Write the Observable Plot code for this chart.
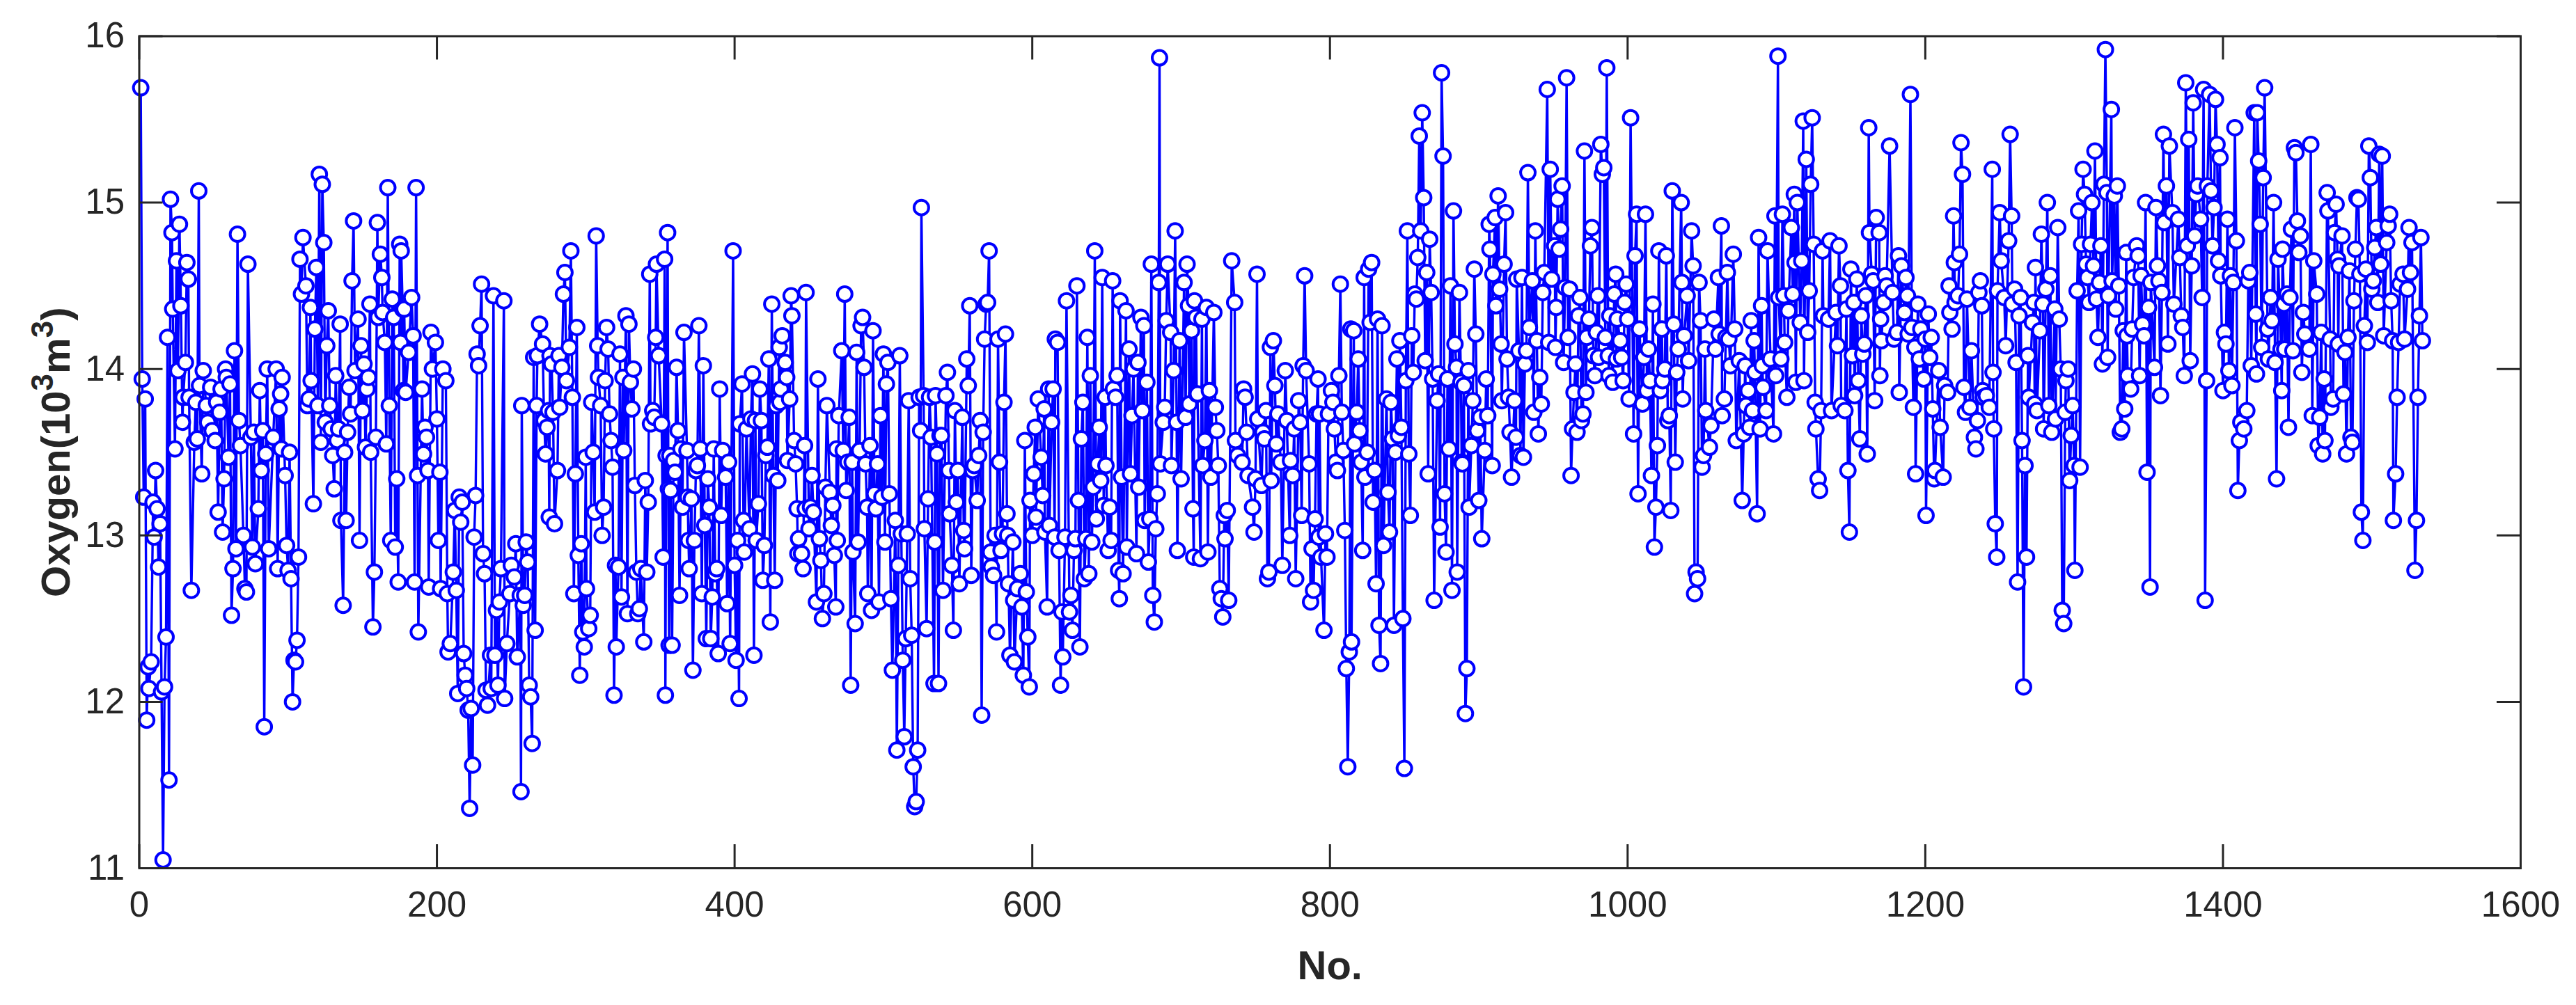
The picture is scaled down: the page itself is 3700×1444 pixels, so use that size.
<!DOCTYPE html>
<html>
<head>
<meta charset="utf-8">
<script src="https://cdn.jsdelivr.net/npm/d3@7"></script>
<script src="https://cdn.jsdelivr.net/npm/@observablehq/plot@0.6"></script>
<style>html,body{margin:0;padding:0;background:#fff}svg{display:block}</style>
</head>
<body>
<div id="chart"></div>
<script>
// Markers as [No., oxygen]; markers hidden inside dense clusters are not listed.
const part1 = [[1,15.69],[2,13.94],[4,13.82],[3,13.23],[5,11.89],[6.5,12.08],[6,12.21],[8,12.24],[11,13.39],[9.3,13.2],[12,13.16],[14,13.07],[10,12.99],[13,12.81],[18,12.39],[17,12.09],[15,12.06],[16,11.05],[20,11.53],[19,14.19],[21,15.02],[22,14.82],[27,14.87],[25,14.65],[32,14.64],[33,14.54],[22.5,14.36],[28,14.38],[26,13.99],[31,14.04],[43,13.99],[40,15.07],[24,13.52],[29,13.68],[29.5,13.83],[33.5,13.83],[40.5,13.9],[48,13.89],[45,13.78],[38,13.8],[54,13.74],[52,13.8],[46,13.68],[37,13.56],[39,13.58],[42,13.37],[35,12.67],[49,13.63],[51,13.57],[58,14],[55,13.88],[61,13.91],[58.5,13.95],[60,13.47],[53,13.14],[57,13.34],[56,13.02],[64,14.11],[66,14.81],[73,14.63],[67,13.69],[68,13.54],[70,13],[65,12.92],[63,12.8],[62,12.52],[71,12.68],[72,12.66],[76,12.93],[78,12.83],[75,13.59],[77,13.62],[83,13.63],[80,13.16],[82,13.39],[85,13.49],[90,13.59],[87,12.92],[84,11.85],[86,14],[92,14],[96,13.95],[95,13.85],[94,13.76],[81,13.87],[95.5,13.52],[101,13.5],[98,13.36],[99,12.94],[93,12.8],[100,12.79],[102,12.74],[107,12.87],[106,12.37],[105,12.24],[104,12.25],[103,12],[110,14.79],[108,14.66],[112,14.5],[109,14.45],[115,14.37],[118,14.24],[115.5,13.93],[114,13.82],[113,13.78],[120,13.78],[119,14.61],[121,15.17],[123,15.11],[124,14.76],[127,14.35],[126,14.14],[135,14.27],[132,13.96],[128,13.78],[125,13.68],[122,13.56],[117,13.19],[129,13.64],[134,13.64],[140,13.62],[133,13.57],[130,13.48],[131,13.28],[138,13.5],[135.5,13.09],[139,13.09],[137,12.58],[141,13.89],[142,13.73],[143,14.53],[144,14.89],[145,13.99],[147,14.3],[149,14.14],[151,14.03],[154,13.95],[153,13.88],[150,13.75],[152,13.53],[148,12.97],[155,14.39],[160,14.88],[162,14.69],[163,14.55],[160.5,14.31],[163.5,14.34],[170,14.42],[167,15.09],[171,14.31],[165,14.16],[168,13.78],[159,13.59],[166,13.55],[155.5,13.5],[173,13.34],[158,12.78],[157,12.45],[169,12.97],[172,12.93],[174,12.72],[175,14.75],[176,14.71],[177,14.36],[177.5,13.87],[175.5,14.16]];
const part2 = [[183,14.43],[178,14.36],[184,14.2],[181,14.1],[179,13.86],[186,15.09],[190,13.88],[187,13.36],[185,12.72],[187.5,12.42],[196,14.22],[199,14.16],[197,14],[204,14],[206,13.93],[200,13.7],[192,13.65],[193,13.59],[191,13.49],[194,13.39],[202,13.38],[201,12.97],[194.5,12.69],[202.5,12.68],[207,12.65],[211,12.78],[213,12.67],[209,12.35],[207.5,12.3],[218,12.29],[219,12.16],[220,12.08],[214,12.05],[223,11.96],[221,11.95],[224,11.62],[222,11.36],[212,13.15],[215,13.23],[217,13.2],[216,13.08],[226,13.24],[225,12.99],[227,14.09],[228,14.02],[229,14.26],[230,14.51],[231,12.89],[232,12.77],[236,12.28],[239,12.28],[233,12.07],[236.5,12.08],[234,11.98],[238,14.44],[245,14.41],[241,12.1],[245.5,12.02],[247,12.35],[254,12.27],[242,12.6],[240,12.55],[243,12.8],[250,12.82],[252,12.75],[249,12.65],[253,12.95],[257,13.78],[260,12.96],[261,12.84],[259,12.64],[256,12.64],[258,12.58],[256.5,11.46],[262,12.1],[263,12.03],[264,11.75],[266,12.43],[267,13.78],[269,14.27],[271,14.15],[265,14.07],[267.5,14.08],[276,14.08],[277,14.03],[284,14.01],[282,14.08],[289,14.13],[294,14.25],[290,14.71],[286,14.58],[285,14.45],[287,13.93],[291,13.83],[304,13.8],[282.5,13.77],[278,13.74],[275,13.75],[272,13.69],[274,13.65],[273,13.49],[281,13.39],[293,13.37],[275.5,13.11],[279,13.07],[307,14.8],[314,14.25],[308,14.14],[315,14.12],[323,14.09],[327,14.32],[329,14.27],[332,14],[330,13.92],[325,13.95],[313,13.93],[308.5,13.95],[310,13.78],[316,13.73],[317,13.57],[331,13.76],[325.5,13.51],[318,13.41],[305,13.5],[300,13.47],[333,13.3],[312,13.17],[306,13.14],[311,13],[297,12.95],[295,12.88],[322,12.81],[320,12.82],[334,12.78],[337,12.8],[341,12.78],[324,12.63],[328,12.53],[336,12.56],[335,12.53],[300.5,12.68],[292,12.65],[303,12.52],[302,12.44],[298,12.42],[299,12.33],[296,12.16],[320.5,12.33],[319,12.04],[339,12.36],[347,14.19],[343,14.57],[347.5,14.63],[353,14.66],[355,14.82],[349,14.08],[343.5,13.67],[345,13.75],[346,13.71],[351,13.67],[340,13.33],[342,13.2],[352,12.87],[355.5,13.28],[354,13.48],[353.5,12.04],[356,12.34]];
const part3 = [[356.5,13.48],[359,13.45],[360,13.38],[357,13.27],[361,14.01],[362,13.63],[364,13.52],[365,13.17],[366,14.22],[368,13.51],[371,13.22],[368.5,13.23],[369,12.97],[373,12.97],[369.5,12.8],[363,12.64],[358,12.34],[372,12.19],[376,14.26],[379,14.02],[377,13.52],[375,13.42],[374,13.39],[382,13.34],[383,13.17],[380,13.06],[378,12.65],[390,13.88],[392,13.51],[386,13.52],[396,13.44],[394,13.35],[391,13.12],[388,12.8],[387,12.77],[385,12.63],[395,12.59],[381,12.38],[384,12.38],[389,12.29],[397,12.35],[399,14.71],[400,12.82],[401,12.25],[403,12.02],[405,13.91],[403.5,13.67],[408,13.64],[411,13.7],[414,13.69],[418,13.69],[412,13.97],[417,13.88],[416,13.19],[406,13.09],[410,13.04],[402,12.97],[406.5,12.9],[414.5,12.97],[420,12.94],[419,12.73],[427,12.73],[413,12.28],[424,12.48],[423,14.06],[425,14.39],[430,14.13],[432,14.2],[434,14.04],[435,13.95],[431,13.88],[428,13.78],[437,13.82],[430.5,13.8],[421,13.48],[422,13.53],[426,13.36],[429,13.33],[435.5,13.45],[440,13.57],[441,13.43],[447,13.54],[438,14.44],[438.5,14.32],[448,14.46],[452,13.36],[442,13.16],[447.5,13.16],[451,13.17],[453,13.14],[450,13.04],[443,12.98],[445,12.89],[442.5,12.89],[457,12.98],[446,12.8],[458,12.85],[465,13.06],[466,13.18],[464,13.26],[461,13.29],[469,12.97],[467,12.88],[460,12.65],[455,12.6],[468,12.57],[459,12.5],[456,13.94],[462,13.78],[470,13.72],[472,14.11],[474,14.45],[477,13.71],[468.5,13.52],[473,13.51],[476,13.44],[479,13.44],[475,13.27],[479.5,12.9],[481,12.47],[478,12.1],[482,14.1],[487,14.01],[486,14.31],[485,14.26],[493,14.23],[484,13.51],[488,13.43],[491,13.54],[496,13.43],[498,13.72],[500,14.09],[503,14.04],[511,14.08],[502,13.91],[517,13.81],[524,13.83],[527,13.84],[531,13.83],[525,13.63],[532,13.59],[525.5,14.97],[483,12.96],[489,13.17],[495,13.16],[494,13.25],[499,13.23],[504,13.25],[508,13.09],[512,13.01],[516,13.01],[501,12.96],[527.5,13.04],[530,13.22],[510,12.82],[518,12.74],[489.5,12.65],[505,12.62],[497,12.6],[492,12.55],[529,12.44],[519,12.4],[515,12.38],[513,12.25],[506,12.19],[509,11.71],[514,11.79],[523,11.71],[520,11.61],[522,11.4],[521,11.37],[534,12.11]];
const part4 = [[571,14.71],[558,14.38],[569,14.39],[570,14.4],[556,14.06],[543,13.98],[557,13.9],[568,14.18],[577,14.18],[582,14.21],[535,13.84],[542,13.84],[548,13.75],[553,13.71],[565,13.69],[567,13.62],[581,13.8],[538,13.6],[539,13.6],[536,13.49],[564,13.48],[578,13.44],[544,13.39],[550,13.39],[560,13.39],[561,13.42],[549,13.2],[563,13.21],[544.5,13.13],[554,13.03],[583,13.13],[534.5,12.96],[554.5,12.92],[575,13],[580,13.01],[583.5,13],[587,12.96],[579,12.91],[572,12.9],[546,12.82],[559,12.76],[551,12.71],[572.5,12.81],[574,12.76],[540,12.67],[547,12.43],[576,12.42],[537,12.11],[566,11.92],[592,12.77],[584,12.71],[590,12.68],[596,12.66],[587.5,12.61],[593,12.57],[597,12.39],[585,12.28],[588,12.24],[594,12.16],[598,12.09],[595,13.57],[604,13.82],[602,13.65],[608,13.76],[611,13.88],[614,13.88],[613,13.68],[606,13.47],[601,13.37],[607,13.24],[598.5,13.21],[602.5,13.11],[600,13],[608.5,13.02],[611.5,13.06],[615,12.99],[618,12.91],[622,12.99],[629,12.98],[628,12.91],[636,12.98],[640,12.96],[610,12.57],[626,12.64],[620,12.54],[625,12.54],[627,12.43],[632,12.33],[620.5,12.27],[619,12.1],[638,12.77],[635,12.74],[617,14.16],[615.5,14.18],[623,14.41],[630,14.5],[642,14.71],[647,14.55],[654,14.53],[659,14.41],[663,14.35],[673,14.31],[675,14.26],[637,14.19],[639,13.96],[634,13.8],[633,13.58],[631,13.21],[645,13.65],[649,13.83],[656,13.83],[657,13.96],[654.5,13.88],[649.5,13.42],[644,13.43],[646,13.33],[641,13.29],[652,13.17],[648,13.18],[643,13.1],[653,12.97],[651,12.91],[665,14.12],[671,14.04],[668,14],[677,13.92],[667,13.72],[674,13.75],[666,13.37],[660,13.35],[671.5,13.29],[684,13.25],[685,14.52],[685.5,15.87],[680,14.63],[691,14.63],[696,14.83],[704,14.63],[702,14.52],[690,14.29],[693,14.22],[699,14.17],[695,13.99],[709,14.41],[705,14.38],[707,14.23],[710,14.31],[689,13.77],[688,13.68],[697,13.68],[703,13.71],[705.5,13.79],[710.5,13.85],[686,13.43],[693.5,13.42],[700,13.34],[679,13.1],[675.5,13.09],[683,13.04],[708,13.16],[697.5,12.91],[670,12.89],[663.5,12.93],[678,12.84],[661,12.77],[658,12.79],[708.5,12.87],[681,12.64],[658.5,12.62],[682,12.48]];
const part5 = [[734,14.65],[736,14.4],[751,14.57],[783,14.56],[807,14.51],[828,14.64],[826,14.6],[823,14.55],[717,14.37],[722,14.34],[714,14.3],[762,14.17],[760,14.13],[770,13.99],[782,14.02],[784,13.99],[792,13.94],[806,13.96],[816,14.23],[814,14.24],[819,14.06],[827,14.28],[832,14.3],[835,14.26],[847,14.17],[855,14.2],[845,14.06],[864,14.05],[856,13.98],[851,13.93],[869,13.94],[873,13.97],[879,13.94],[885,14.01],[884,14.15],[888,13.92],[875,15.78],[862,15.54],[860,15.4],[876,15.28],[863,15.03],[883,14.95],[852,14.83],[861,14.83],[867,14.78],[859,14.67],[865,14.58],[857,14.45],[858,14.42],[868,14.46],[881,14.5],[887,14.46],[711,13.85],[719,13.87],[723,13.77],[724,13.63],[716,13.57],[714.5,13.42],[725,13.42],[720,13.35],[731,13.15],[729,13.12],[729.5,12.98],[713,12.86],[718,12.9],[726,12.68],[727,12.62],[732,12.61],[728,12.51],[742,13.88],[743,13.83],[744,13.62],[736.5,13.57],[738,13.48],[741,13.44],[745,13.36],[750,13.34],[754,13.3],[751.5,13.7],[757,13.75],[755,13.62],[756,13.58],[765,13.73],[764,13.55],[763,13.9],[771,13.69],[760.5,13.33],[748,13.17],[749,13.02],[759,12.78],[758,12.74],[768,12.82],[777,12.74],[773,13],[767,13.44],[773.5,13.45],[775,13.36],[776,13.64],[780,13.68],[779,13.81],[786,13.43],[781,13.12],[790,13.1],[788,12.92],[792.5,12.99],[797,13.01],[798,12.87],[794,12.87],[789,12.67],[787,12.6],[796,12.43],[791,13.73],[793,13.73],[801,13.87],[802,13.8],[799,13.73],[808,13.74],[803,13.64],[809,13.51],[804,13.44],[805,13.39],[810,13.03],[816.5,13.55],[818,13.74],[820,13.63],[821,13.44],[825,13.5],[823.5,13.35],[830,13.39],[829,13.2],[822,12.91],[836,12.94],[840,13.02],[831,12.71],[814.5,12.36],[813,12.3],[811,12.2],[812,11.61],[833,12.46],[834,12.23],[843,12.46],[849,12.5],[850,11.6],[838,13.82],[841,13.8],[839,13.26],[842,13.58],[846,13.6],[848,13.65],[844,13.5],[853,13.49],[854,13.12],[866,13.37],[872,13.81],[880,13.52],[877,13.25],[874,13.05],[878,12.9],[870,12.61],[882,12.67],[885.5,12.78],[888.5,13.44]];
const part6 = [[897,14.6],[898,14.21],[893,13.99],[890,13.9],[896,13.81],[905,13.94],[906,13.72],[901,13.71],[899,13.63],[895,13.54],[904,13.51],[889,13.43],[909,13.42],[893.5,13.17],[900,13.21],[892,12.2],[891,11.93],[902,12.98],[913,15.04],[918,14.94],[907,14.87],[911,14.91],[907.5,14.72],[917,14.63],[909.5,14.57],[914,14.48],[911.5,14.38],[915,14.15],[919,14.06],[915.5,13.81],[920,13.83],[924,13.81],[921,13.62],[925,13.59],[922,13.35],[928,13.48],[930,13.47],[933,15.18],[938,14.83],[925.5,14.54],[929,14.55],[936,14.53],[943,14.46],[934,14.25],[939,14.17],[927,14.11],[932,14.11],[931,14.03],[941,13.95],[942,13.79],[937,13.74],[940,13.61],[946,15.68],[959,15.75],[948,15.2],[956,15.1],[953,15.02],[955,14.84],[951,14.74],[954,14.72],[944,14.58],[949,14.54],[952,14.37],[947,14.16],[951.5,14.13],[958,14.49],[961,14.48],[960,14.19],[957,14.04],[965,14.03],[964,13.86],[972,13.86],[970,13.73],[966,13.62],[963,13.64],[969,13.69],[962,13.36],[968,14.43],[967,14.32],[971,15.31],[976,14.85],[975,14.74],[974,14.3],[972.5,14.19],[980,14.44],[979,14.22],[977,14.08],[980.5,14.07],[978,13.96],[986,15.81],[982,15.35],[984,15.21],[983,15.17],[992,14.57],[999,14.51],[991,14.45],[998,14.4],[988,14.32],[993,14.3],[1000,14.3],[985,14.19],[995,14.17],[987,14.08],[996,14.07],[992.5,14.06],[987.5,13.96],[990,13.92],[997,13.93],[1001,13.82],[1002,15.51],[1006,14.93],[1012,14.93],[1005,14.68],[1008,14.24],[1014,14.12],[1011,14.07],[1015,13.93],[1013,13.87],[1010,13.79],[1004,13.61],[1007,13.25],[1020,13.54],[1016,13.36],[1019,13.17],[1018,12.93],[1017,14.39],[1021,14.71],[1026,14.68],[1030,15.07],[1036,15],[1043,14.83],[1063,14.86],[1044,14.62],[1036.5,14.52],[1048,14.52],[1040,14.44],[1061,14.55],[1067,14.58],[1023,14.24],[1031,14.27],[1038,14.2],[1034,14.12],[1049,14.29],[1058,14.3],[1061.5,14.21],[1052,14.12],[1041,14.05],[1033,13.98],[1025,14],[1023.5,13.93],[1022,13.87],[1066,14.19],[1059,14.12],[1037,13.82],[1065,13.82],[1052.5,13.75],[1063.5,13.72],[1028,13.72],[1027,13.69],[1056,13.66],[1055,13.53],[1051,13.48],[1050,13.41],[1032,13.44],[1029,13.15],[1046,12.78],[1047,12.74],[1045,12.65]];
const part7 = [[1071,14.69],[1101,15.88],[1118,15.49],[1124,15.51],[1120,15.26],[1123,15.11],[1112,15.05],[1114,15],[1162,15.45],[1176,15.34],[1190,15.65],[1224,15.36],[1225,15.17],[1099,14.92],[1104,14.93],[1110,14.85],[1088,14.79],[1094,14.71],[1125,14.75],[1131,14.71],[1136,14.77],[1142,14.74],[1112.5,14.64],[1117,14.65],[1162.5,14.82],[1167,14.91],[1169,14.82],[1219,14.92],[1182,14.68],[1184,14.62],[1223,14.69],[1219.5,14.64],[1187,14.55],[1150,14.6],[1154,14.54],[1143,14.5],[1164,14.57],[1173,14.56],[1165,14.53],[1178,14.46],[1174,14.5],[1216,14.5],[1237,14.53],[1122,14.47],[1111,14.45],[1101.5,14.43],[1105,14.44],[1160,14.44],[1152,14.4],[1188,14.44],[1222,14.44],[1228,14.42],[1236,14.46],[1238,14.38],[1090,14.38],[1108,14.35],[1172,14.4],[1195,14.39],[1202,14.33],[1216.5,14.34],[1220,14.4],[1083,14.29],[1116,14.28],[1131.5,14.32],[1135,14.3],[1140,14.34],[1147,14.36],[1157,14.32],[1170,14.3],[1186,14.34],[1181,14.22],[1191,14.25],[1197,14.24],[1218,14.24],[1072,14.24],[1121,14.22],[1179,14.18],[1068,14.18],[1085,14.17],[1105.5,14.16],[1141,14.14],[1159,14.15],[1170.5,14.17],[1188.5,14.21],[1204,14.19],[1200,14.18],[1231,14.11],[1151,14.08],[1158,14.09],[1193,14.13],[1196,14.06],[1203,14.07],[1103,14.06],[1096,14.06],[1079,14.02],[1085.5,13.98],[1075,14.05],[1069,14.02],[1209,13.99],[1099.5,13.96],[1090.5,14.02],[1169.5,13.96],[1199,13.94],[1155,13.93],[1118.5,13.93],[1113,13.92],[1213,13.9],[1081,13.87],[1091,13.89],[1215,13.86],[1226,13.89],[1238.5,13.87],[1152.5,13.84],[1107,13.83],[1166,13.81],[1182.5,13.86],[1241,13.84],[1243,13.77],[1239,13.83],[1126,13.8],[1192,13.77],[1130,13.75],[1137,13.75],[1143.5,13.78],[1146,13.75],[1205,13.76],[1230,13.77],[1227,13.74],[1084,13.75],[1093,13.75],[1079.5,13.78],[1235,13.69],[1089,13.64],[1082,13.65],[1098,13.61],[1126.5,13.64],[1210,13.65],[1078,13.61],[1073,13.57],[1233,13.59],[1234,13.52],[1156,13.58],[1161,13.49],[1148,13.39],[1193.5,13.37],[1206,13.34],[1212,13.35],[1206.5,13.39],[1128,13.34],[1129,13.27],[1077,13.21],[1087,13.13],[1149,13.02],[1200.5,13.12]];
const part8 = [[1245,15.2],[1247,13.07],[1248,12.87],[1245.5,13.98],[1246,13.64],[1250,14.94],[1257,15.41],[1258,14.92],[1256,14.77],[1251,14.65],[1248.5,14.47],[1253,14.43],[1260,14.48],[1264,14.43],[1258.5,14.39],[1254,14.14],[1263,14.32],[1269,14.08],[1261,14.04],[1265,13.57],[1267,13.42],[1268,12.87],[1262,12.72],[1266,12.09],[1282,15],[1278,14.81],[1274,14.61],[1289,14.85],[1284,14.56],[1281,14.48],[1279,14.39],[1273,14.4],[1272,14.28],[1287,14.36],[1290,14.3],[1277,14.23],[1269.5,13.83],[1275,13.75],[1273.5,13.79],[1283,13.78],[1279.5,13.64],[1285,13.62],[1287.5,13.7],[1294,13.74],[1296,14],[1294.5,13.93],[1291,14],[1299,13.78],[1298,13.6],[1304,13.41],[1300,13.42],[1297,13.33],[1300.5,12.79],[1292,12.55],[1293,12.47],[1306,15.2],[1303,14.95],[1307,15.05],[1314,15.31],[1312,15],[1321,15.92],[1325,15.56],[1320,15.11],[1322,15.06],[1329,15.1],[1327,15.04],[1305,14.75],[1302,14.47],[1311,14.75],[1318,14.74],[1308,14.63],[1313,14.62],[1309,14.55],[1317,14.52],[1310,14.4],[1315,14.42],[1323,14.44],[1325.5,14.53],[1330,14.5],[1328,14.36],[1316,14.19],[1319,14.03],[1322.5,14.07],[1335,14.7],[1342,14.74],[1343,14.68],[1340,14.55],[1345,14.56],[1333,14.23],[1339,14.24],[1335.5,14.2],[1346,14.27],[1350,14.37],[1347,14.2],[1336,13.96],[1344,13.96],[1338,13.88],[1334,13.76],[1332,13.64],[1331,13.62],[1349,13.38],[1351,12.69],[1354,14.01],[1358,13.84],[1348,15],[1355,14.97],[1360,15.41],[1364,15.34],[1362,15.1],[1360.5,14.88],[1356,14.62],[1351.5,14.52],[1357,14.53],[1359,14.46],[1367,14.39],[1363,14.15],[1372,14.32],[1373,14.25],[1378,14.05],[1374,13.96],[1388,12.61],[1389,13.93],[1386,14.43],[1379,14.62],[1371,14.67],[1376,14.74],[1381,14.8],[1370,14.9],[1366,14.94],[1385,14.9],[1375,15.72],[1380,15.6],[1377,15.38],[1387,15.68],[1391,15.65],[1395,15.62],[1396,15.35],[1398,15.27],[1383,15.1],[1382,15.05],[1389.5,15.1],[1392,15.07],[1394,14.97],[1408,15.45],[1403,14.9],[1409,14.77],[1393,14.74],[1397,14.65],[1398.5,14.56],[1405,14.56],[1407,14.52],[1418,14.58],[1417,14.53],[1401,14.22],[1402,14.15],[1404,13.99],[1400,13.87],[1406,13.9],[1419,14.02],[1416,13.75],[1412,13.68],[1414,13.64],[1411,13.57],[1410,13.27],[1421,15.54]];
const part9 = [[1428,15.69],[1423,15.54],[1424,15.25],[1427,15.15],[1434,15],[1425,14.87],[1440,14.72],[1437,14.66],[1446,14.84],[1450,14.89],[1448,15.33],[1449,15.3],[1459,15.35],[1452,14.8],[1451,14.7],[1461,14.65],[1463,14.45],[1445,14.43],[1432,14.43],[1443,14.45],[1441,14.39],[1454,14.34],[1422,14.33],[1430,14.24],[1433,14.29],[1455,14.21],[1466,14.22],[1426,14.13],[1441.5,14.12],[1439,14.12],[1447,14.11],[1458,14.12],[1435,14.04],[1430.5,14.06],[1422.5,13.97],[1453,13.98],[1468,13.94],[1439.5,13.87],[1465,13.71],[1460,13.72],[1444,13.65],[1436,13.34],[1468.5,13.57],[1464,13.54],[1467,13.49],[1470,15.06],[1470.5,14.95],[1476,14.99],[1475,14.82],[1480,14.8],[1477,14.66],[1478,14.62],[1485,14.59],[1489,14.72],[1491,15.02],[1490,15.03],[1492,14.57],[1496,14.6],[1488,14.41],[1472,14.18],[1477.5,14.15],[1484,14.19],[1482,14.1],[1495,14.26],[1497,14.16],[1474,13.82],[1472.5,13.77],[1481,13.85],[1483,13.49],[1486,13.59],[1487,13.56],[1493,13.14],[1494,12.97],[1498,15.34],[1499,15.15],[1505,15.29],[1507,15.28],[1512,14.93],[1511,14.86],[1503,14.85],[1510,14.76],[1502,14.73],[1506,14.63],[1501,14.53],[1500,14.48],[1504,14.4],[1513,14.41],[1508,14.2],[1514,14.17],[1518,14.16],[1522,14.18],[1517,13.83],[1516,13.37],[1514.5,13.09],[1525,14.85],[1527,14.76],[1533,14.79],[1521,14.57],[1526,14.58],[1519,14.51],[1524,14.48],[1532,14.32],[1534,14.17],[1531,13.83],[1530,13.09],[1529,12.79]];

const xTicks = [0, 200, 400, 600, 800, 1000, 1200, 1400, 1600];
const yTicks = [11, 12, 13, 14, 15, 16];
const xLabel = "No.";
const yLabel = "Oxygen(10³m³)";

const ink = "#262626", blue = "#0000ff", font = "'Liberation Sans', Arial, sans-serif";
const rows = d3.sort([...part1, ...part2, ...part3, ...part4, ...part5, ...part6, ...part7, ...part8, ...part9], d => d[0])
  .map(([no, oxygen]) => ({no, oxygen}));

const W = 3700, H = 1444, mL = 199.5, mR = 80, mT = 51.5, mB = 197;
const tick = 34, innerW = W - mL - mR, innerH = H - mT - mB;

const svg = Plot.plot({
  width: W, height: H,
  marginLeft: mL, marginRight: mR, marginTop: mT, marginBottom: mB,
  style: {background: "#fff", overflow: "visible"},
  x: {domain: [0, 1600], label: null},
  y: {domain: [11, 16], label: null},
  marks: [
    Plot.line(rows, {x: "no", y: "oxygen", stroke: blue, strokeWidth: 3.4, curve: "linear", strokeLinejoin: "round"}),
    Plot.dot(rows, {x: "no", y: "oxygen", r: 10.5, fill: "#fff", stroke: blue, strokeWidth: 4}),
    Plot.frame({stroke: ink, strokeWidth: 3}),
    Plot.tickX(xTicks, {x: d => d, stroke: ink, strokeWidth: 3, insetTop: innerH - tick}),
    Plot.tickX(xTicks, {x: d => d, stroke: ink, strokeWidth: 3, insetBottom: innerH - tick}),
    Plot.tickY(yTicks, {y: d => d, stroke: ink, strokeWidth: 3, insetRight: innerW - tick}),
    Plot.tickY(yTicks, {y: d => d, stroke: ink, strokeWidth: 3, insetLeft: innerW - tick}),
    Plot.axisX(xTicks, {anchor: "bottom", tickSize: 0, tickPadding: 33, tickFormat: "d", fontSize: 51, fontFamily: font, fill: ink, label: null}),
    Plot.axisY(yTicks, {anchor: "left", tickSize: 0, tickPadding: 21, tickFormat: "d", fontSize: 51, fontFamily: font, fill: ink, label: null}),
    Plot.text([xLabel], {frameAnchor: "bottom", dy: 159, fontSize: 58, fontWeight: "bold", fontFamily: font, fill: ink}),
    Plot.text([yLabel], {frameAnchor: "left", dx: -119, rotate: -90, textAnchor: "middle", fontSize: 58, fontWeight: "bold", fontFamily: font, fill: ink})
  ]
});

// Real superscripts for the unit in the y label
d3.select(svg).selectAll("text").filter(function () { return this.textContent === yLabel; }).each(function () {
  const t = d3.select(this).text(null);
  const add = (s, sup) => t.append("tspan").text(s).attr("font-size", sup ? 44 : null).attr("dy", sup === 1 ? -24 : sup === 0 ? 24 : null);
  add("Oxygen(10"); add("3", 1); add("m", 0); add("3", 1); add(")", 0);
});

document.getElementById("chart").appendChild(svg);
</script>
</body>
</html>
